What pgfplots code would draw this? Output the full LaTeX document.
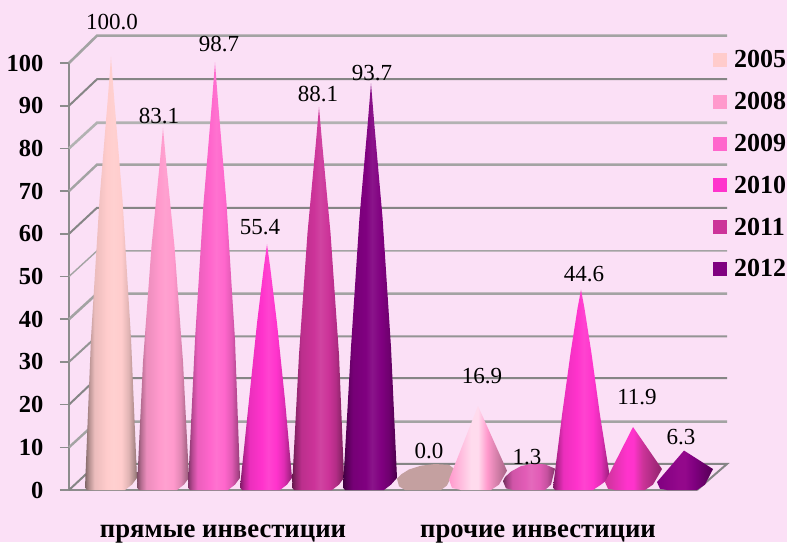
\documentclass[border=0pt]{standalone}
\usepackage{fontspec}
\setmainfont{Liberation Serif}
\usepackage{pgfplots}
\pgfplotsset{compat=1.18}
\usepackage{pgfplotstable}

\definecolor{bg}{HTML}{FBE0F6}
\definecolor{axisgray}{HTML}{8C8C8C}
\definecolor{cc2005}{HTML}{FFCCCC}
\definecolor{cc2008}{HTML}{FF99CC}
\definecolor{cc2009}{HTML}{FF66CC}
\definecolor{cc2010}{HTML}{FF33CC}
\definecolor{cc2011}{HTML}{CC3399}
\definecolor{cc2012}{HTML}{800080}
\definecolor{flatbase}{HTML}{C4A0A0}
\definecolor{lowpink}{HTML}{E25CB6}

% side-lit cone colours
\newcommand{\coneshade}[2]{\pgfdeclarehorizontalshading{cone#1}{100bp}{
  color(0bp)=(#2!50!black); color(25bp)=(#2!50!black); color(29bp)=(#2!72!black);
  color(34bp)=(#2!92!black); color(46bp)=(#2); color(52bp)=(#2!92!white);
  color(60bp)=(#2); color(67bp)=(#2!88!black); color(73bp)=(#2!65!black);
  color(75bp)=(#2!50!black); color(100bp)=(#2!50!black)}}
% the short cones catch a brighter highlight
\newcommand{\lowshade}[4]{\pgfdeclarehorizontalshading{cone#1}{100bp}{
  color(0bp)=(#2); color(25bp)=(#2); color(44bp)=(#3); color(50bp)=(#3);
  color(58bp)=(#2); color(75bp)=(#4); color(100bp)=(#4)}}
\coneshade{2005}{cc2005}
\coneshade{2008}{cc2008}
\coneshade{2009}{cc2009}
\coneshade{2010}{cc2010}
\coneshade{2011}{cc2011}
\coneshade{2012}{cc2012}
\coneshade{low}{lowpink}
\lowshade{a}{cc2008}{cc2008!35!white}{cc2008!65!black}
\lowshade{b}{cc2011}{cc2010}{cc2011!70!black}
\lowshade{c}{cc2012}{cc2012!85!cc2010}{cc2012!65!black}

\pgfplotstableread{
x y t
43 109.6 100.0
90 87.6 83.1
150 104.4 98.7
191 61.6 55.4
249 92.7 88.1
303 97.7 93.7
360 9.1 0.0
413 26.7 16.9
458 7.7 1.3
515 50.6 44.6
568 21.8 11.9
612 12.4 6.3
}\labels

\begin{document}
\begin{tikzpicture}
\fill[bg] (0,0) rectangle (787pt,542pt);
\path[use as bounding box] (0,0) rectangle (787pt,542pt);
\begin{axis}[
  at={(69pt,52pt)}, anchor=south west,
  scale only axis, width=628pt, height=427pt,
  xmin=0, xmax=628, ymin=0, ymax=100,
  clip=false,
  axis x line*=bottom, axis y line*=left,
  axis line style={axisgray, line width=2.6pt},
  tick style={axisgray, line width=1.6pt},
  tick align=outside,
  ytick={0,10,...,100},
  major tick length=9pt,
  xtick={154,469},
  xticklabels={прямые инвестиции,прочие инвестиции},
  major x tick style={draw=none},
  extra x ticks={0,313,627},
  extra x tick labels={},
  extra x tick style={major tick length=6pt, tick style={axisgray, line width=1.2pt}},
  /pgf/number format/assume math mode=true,
  y tick label style={font=\bfseries\fontsize{24.5}{25}\selectfont, xshift=-13pt},
  x tick label style={font=\bfseries\fontsize{26.7}{27}\selectfont, yshift=-22pt},
  legend cell align=left,
  legend style={at={(axis cs:644,103.4)}, anchor=north west, draw=none, fill=none,
    inner sep=0pt, font=\bfseries\fontsize{26}{26}\selectfont, row sep=19pt,
    /tikz/every odd column/.append style={column sep=5pt}},
  legend image code/.code={\fill[draw=none,#1] (0pt,-7pt) rectangle (14pt,7pt);},
  wall/.style={forget plot, line width=#1},
  cone/.style={forget plot, draw=none, shade, shading=cone#1,
    y filter/.expression={3.04+0.984*y}},
]
% back wall and the slanted side of the floor
\addplot[wall=2.6pt, color=black!36] coordinates {(0,100)(28,106.4)(658,106.4)};
\addplot[wall=2pt, color=black!48] coordinates {(0,90)(28,96.2)(658,96.2)};
\addplot[wall=2.6pt, color=black!30] coordinates {(0,80)(28,86)(658,86)};
\addplot[wall=2.4pt, color=black!36] coordinates {(0,70)(28,76.2)(658,76.2)};
\addplot[wall=2pt, color=black!48] coordinates {(0,60)(28,66.1)(658,66.1)};
\addplot[wall=1.4pt, color=black!36] coordinates {(0,50)(28,56)(658,56)};
\addplot[wall=2.6pt, color=black!36] coordinates {(0,40)(28,46)(658,46)};
\addplot[wall=2pt, color=black!42] coordinates {(0,30)(28,36)(658,36)};
\addplot[wall=2pt, color=black!48] coordinates {(0,20)(28,26.2)(658,26.2)};
\addplot[wall=2.4pt, color=black!36] coordinates {(0,10)(28,16)(658,16)};
\addplot[wall=2pt, color=black!48] coordinates {(0,0)(28,6.1)(658,6.1)(628,0)};

% direct investment
\addplot[cone=2005] coordinates {(16,-2.5)(18,-3.09)(56,-3.09)(63,-1.8)(68,-0.2)(62,33)(53.5,66)(45.2,90)(42,100.0)(38.8,90)(30.5,66)(22,33)} --cycle;
\addplot[cone=2008] coordinates {(68,-2.5)(70,-3.09)(108,-3.09)(115,-1.8)(120,-0.2)(114,27.4)(105.5,54.8)(97.2,74.8)(94,83.1)(90.8,74.8)(82.5,54.8)(74,27.4)} --cycle;
\addplot[cone=2009] coordinates {(119,-2.5)(121,-3.09)(159,-3.09)(166,-1.8)(171,-0.2)(166,32.6)(157.5,65.1)(149.2,88.8)(146,98.7)(142.8,88.8)(134.5,65.1)(126,32.6)} --cycle;
\addplot[cone=2010] coordinates {(171,-2.5)(173,-3.09)(211,-3.09)(218,-1.8)(223,-0.2)(216,18.3)(208,36.6)(201.2,49.9)(198,55.4)(194.8,49.9)(188,36.6)(180,18.3)} --cycle;
\addplot[cone=2011] coordinates {(223,-2.5)(225,-3.09)(263,-3.09)(270,-1.8)(275,-0.2)(270,29.1)(261.5,58.1)(253.2,79.3)(250,88.1)(246.8,79.3)(238.5,58.1)(230,29.1)} --cycle;
\addplot[cone=2012] coordinates {(274,-2.5)(276,-3.09)(315,-3.09)(322,-1.8)(328,-0.2)(322,30.9)(313.5,61.8)(305.2,84.3)(302,93.7)(298.8,84.3)(290.5,61.8)(282,30.9)} --cycle;

% other investment
\addplot[forget plot, draw=none, fill=flatbase, y filter/.expression={3.04+0.984*y}] coordinates {(328,-0.4)(330,-2.2)(336,-3.09)(372,-3.09)(378,-2)(386,1.8)(380,2.9)(366,3.1)(352,2.7)(340,1.8)(332,0.6)} --cycle;
\addplot[cone=a] coordinates {(380,-0.6)(383,-2.6)(392,-3.09)(422,-3.09)(430,-1.8)(438,1.5)(409,16.9)} --cycle;
\addplot[cone=low] coordinates {(434,-1)(437,-2.7)(444,-3.09)(476,-3.09)(482,-1.8)(486,2)(476,3)(464,3.2)(452,2.6)(442,1.3)(436,0)} --cycle;
\addplot[cone=2010] coordinates {(484,-2.5)(486,-3.09)(524,-3.09)(532,-1.8)(541,-0.2)(531,14.7)(522.5,29.4)(515.5,40.1)(512,44.6)(508.5,40.1)(501.5,29.4)(493,14.7)} --cycle;
\addplot[cone=b] coordinates {(536,-1.2)(539,-2.8)(546,-3.09)(576,-3.09)(584,-1.8)(593,1.9)(564,11.9)} --cycle;
\addplot[cone=c] coordinates {(588,-1.2)(591,-2.8)(598,-3.09)(628,-3.09)(636,-1.8)(644,1.9)(615,6.3)} --cycle;

% value labels
\addplot[forget plot, only marks, mark=none, point meta=explicit symbolic,
  nodes near coords,
  every node near coord/.append style={anchor=center, inner sep=0pt, font=\fontsize{23}{23}\selectfont},
] table[x=x, y=y, meta=t] {\labels};

\addlegendimage{fill=cc2005}\addlegendentry{2005}
\addlegendimage{fill=cc2008}\addlegendentry{2008}
\addlegendimage{fill=cc2009}\addlegendentry{2009}
\addlegendimage{fill=cc2010}\addlegendentry{2010}
\addlegendimage{fill=cc2011}\addlegendentry{2011}
\addlegendimage{fill=cc2012}\addlegendentry{2012}
\end{axis}
\end{tikzpicture}
\end{document}
